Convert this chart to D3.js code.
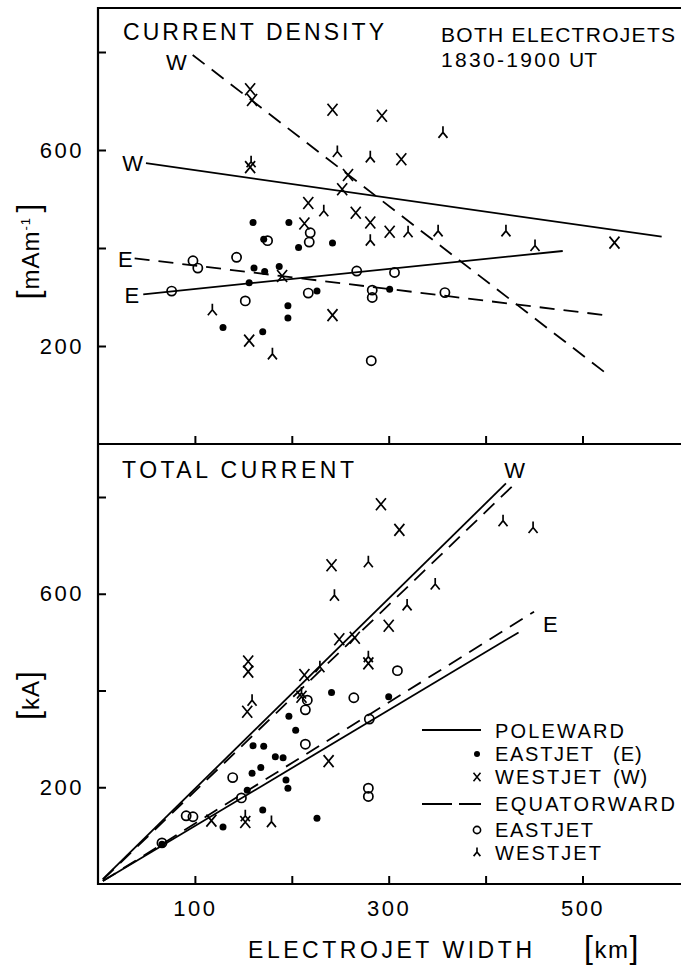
<!DOCTYPE html>
<html>
<head>
<meta charset="utf-8">
<script src="https://cdn.jsdelivr.net/npm/d3@7"></script>
<style>
  body { margin: 0; background: #fff; }
  text { font-family: "Liberation Sans", Arial, sans-serif; fill: #000; }
</style>
</head>
<body>
<svg id="chart"></svg>
<script>
// ---- data (width in km, density in mA/m, current in kA) ----
// upper panel: current density
let topEastPole = [[160,452],[197,452],[171,418],[207,401],[242,410],[161,359],[172,352],[187,362],
    [156,329],[226,312],[301,316],[196,282],[196,257],[129,238],[170,229]];
let topWestPole = [[157,724],[159,702],[242,682],[293,670],[313,581],[157,565],[258,549],[252,520],
    [217,492],[266,472],[281,452],[301,433],[213,450],[190,343],[242,263],[156,211],[533,411]];
let topEastEqu = [[219,431],[218,412],[175,415],[143,381],[98,374],[103,359],[76,312],[267,353],
    [306,350],[217,308],[283,314],[283,299],[358,309],[152,292],[282,170]];
let topWestEqu = [[356,636],[247,597],[281,586],[158,576],[233,476],[281,416],[320,433],[351,435],
    [421,435],[451,405],[118,274],[180,184]];

// lower panel: total current
let botEastPole = [[241,396],[300,387],[197,347],[204,318],[160,286],[171,285],[183,263],[191,261],
    [168,241],[159,229],[194,215],[196,198],[154,194],[170,153],[226,136],[129,118],[66,82]];
let botWestPole = [[292,785],[311,732],[241,659],[300,534],[249,506],[265,509],[279,456],[155,460],
    [155,439],[213,432],[154,356],[210,387],[238,254],[152,128],[117,131]];
let botEastEqu = [[309,441],[264,385],[216,380],[214,360],[280,341],[214,289],[139,220],[279,198],
    [279,181],[148,178],[91,141],[98,139],[66,85]];
let botWestEqu = [[418,751],[449,737],[279,666],[244,597],[348,620],[319,577],[279,470],[229,449],
    [159,380],[179,129],[152,141],[210,395]];

// fitted lines (start, end)
let topPoleW = [[49.5,573],[581.7,423]];
let topEquW  = [[97.7,794],[524.3,144.3]];
let topEquE  = [[37.8,379],[521.9,263.3]];
let topPoleE = [[46.7,305.5],[479.6,393.9]];
let botPoleW = [[5,10],[421,828]];
let botEquW  = [[5,9],[430,827]];
let botPoleE = [[5,6],[434,520]];
let botEquE  = [[5,6],[450,563]];

let xTicks = [100,200,300,400,500], xLabels = [100,300,500];
let yTicks = [200,400,600,800], yLabels = [200,600];

// ---- layout ----
const width = 681, height = 969;
const svg = d3.select("#chart").attr("width", width).attr("height", height);
svg.append("rect").attr("width", width).attr("height", height).attr("fill", "#fff");

let x = d3.scaleLinear().domain([0, 600]).range([98, 679.4]);
let yTop = d3.scaleLinear().domain([0, 800]).range([444, 52]);
let yBot = d3.scaleLinear().domain([0, 800]).range([884, 497]);

// frame
svg.append("path")
    .attr("d", "M681,8 H98 V884 H681 M98,444 H681")
    .attr("fill", "none").attr("stroke", "#000").attr("stroke-width", 2.2);

function styleAxis(g) {
    g.select(".domain").remove();
    g.selectAll(".tick line").attr("stroke", "#000").attr("stroke-width", 2);
    g.selectAll(".tick text")
        .attr("font-family", "Liberation Sans, Arial, sans-serif")
        .attr("font-size", 22).attr("letter-spacing", 2.5).attr("fill", "#000");
}

// y axes (ticks pointing inward)
[yTop, yBot].forEach(function(s) {
    svg.append("g").attr("transform", "translate(98,0)")
        .call(d3.axisLeft(s).tickValues(yTicks).tickSize(-8).tickPadding(14)
            .tickFormat(d => yLabels.includes(d) ? d : ""))
        .call(styleAxis);
});

// x ticks on the divider and the bottom axis
svg.append("g").attr("transform", "translate(0,444)")
    .call(d3.axisBottom(x).tickValues(xTicks).tickSize(-8).tickFormat(""))
    .call(styleAxis);
svg.append("g").attr("transform", "translate(0,884)")
    .call(d3.axisBottom(x).tickValues(xTicks).tickSize(-8).tickPadding(16)
        .tickFormat(d => xLabels.includes(d) ? d : ""))
    .call(styleAxis);

// ---- lines ----
function drawLine(data, ys, dashed) {
    svg.append("path")
        .datum(data)
        .attr("d", d3.line().x(d => x(d[0])).y(d => ys(d[1])))
        .attr("fill", "none").attr("stroke", "#000").attr("stroke-width", 1.8)
        .attr("stroke-dasharray", dashed ? "15,9" : null);
}
drawLine(topPoleW, yTop, false);
drawLine(topEquW, yTop, true);
drawLine(topEquE, yTop, true);
drawLine(topPoleE, yTop, false);
drawLine(botPoleW, yBot, false);
drawLine(botEquW, yBot, true);
drawLine(botPoleE, yBot, false);
drawLine(botEquE, yBot, true);

// ---- markers ----
let crossPath = "M-5,-6L5,6M5,-6L-5,6";
let forkPath = "M0,-6V0M-4.5,5.5L0,0L4.5,5.5";

function drawPoints(data, ys, kind) {
    let g = svg.append("g");
    let sel = g.selectAll(".pt").data(data).enter();
    if (kind === "dot") {
        sel.append("circle").attr("cx", d => x(d[0])).attr("cy", d => ys(d[1]))
            .attr("r", 3.5).attr("fill", "#000");
    } else if (kind === "ring") {
        sel.append("circle").attr("cx", d => x(d[0])).attr("cy", d => ys(d[1]))
            .attr("r", 4.6).attr("fill", "none").attr("stroke", "#000").attr("stroke-width", 1.7);
    } else {
        sel.append("path")
            .attr("transform", d => `translate(${x(d[0])},${ys(d[1])})`)
            .attr("d", kind === "cross" ? crossPath : forkPath)
            .attr("fill", "none").attr("stroke", "#000").attr("stroke-width", 1.7);
    }
}
drawPoints(topEastPole, yTop, "dot");
drawPoints(topWestPole, yTop, "cross");
drawPoints(topEastEqu, yTop, "ring");
drawPoints(topWestEqu, yTop, "fork");
drawPoints(botEastPole, yBot, "dot");
drawPoints(botWestPole, yBot, "cross");
drawPoints(botEastEqu, yBot, "ring");
drawPoints(botWestEqu, yBot, "fork");

// ---- text ----
function label(txt, px, py, size, len, anchor) {
    let t = svg.append("text").attr("x", px).attr("y", py)
        .attr("font-size", size).attr("text-anchor", anchor || "start").text(txt);
    if (len) t.attr("textLength", len).attr("lengthAdjust", "spacing");
    return t;
}

// line labels
label("W", x(topEquW[0][0]) - 6, yTop(topEquW[0][1]) + 15, 22, null, "end");
label("W", x(topPoleW[0][0]) - 3, yTop(topPoleW[0][1]) + 8, 22, null, "end");
label("E", x(topEquE[0][0]) - 2, yTop(topEquE[0][1]) + 9, 22, null, "end");
label("E", x(topPoleE[0][0]) - 4, yTop(topPoleE[0][1]) + 9, 22, null, "end");
label("W", x(botEquW[1][0]), 478, 22, null, "middle");
label("E", x(botEquE[1][0]) + 9, 632, 22, null, "start");

// panel titles
label("CURRENT DENSITY", 123, 40, 23, 261);
label("BOTH ELECTROJETS", 441, 41.5, 21, 234);
label("1830-1900", 441, 67, 21, 119);
label("UT", 569, 67, 21, 28);
label("TOTAL CURRENT", 122, 478, 23, 232);

// axis titles
label("ELECTROJET WIDTH", 248, 958, 23, 284);
let km = svg.append("text").attr("x", 584).attr("y", 958).attr("letter-spacing", 1.5);
km.append("tspan").attr("font-size", 32).text("[");
km.append("tspan").attr("font-size", 24).text("km");
km.append("tspan").attr("font-size", 32).text("]");

function yTitle(cx, cy, parts) {
    let t = svg.append("text").attr("transform", `translate(${cx},${cy}) rotate(-90)`)
        .attr("text-anchor", "middle").attr("letter-spacing", 1);
    t.append("tspan").attr("font-size", 32).text("[");
    parts(t);
    t.append("tspan").attr("font-size", 32).text("]");
}
yTitle(39, 251, function(t) {
    t.append("tspan").attr("font-size", 24).text("mAm");
    t.append("tspan").attr("font-size", 13).attr("dy", -9).text("-1");
    t.append("tspan").attr("font-size", 13).attr("dy", 9).text(" ");
});
yTitle(39, 695, function(t) {
    t.append("tspan").attr("font-size", 24).text("kA");
});

// ---- legend ----
let leg = svg.append("g");
leg.append("line").attr("x1", 422).attr("x2", 481).attr("y1", 730).attr("y2", 730)
    .attr("stroke", "#000").attr("stroke-width", 1.8);
leg.append("line").attr("x1", 422).attr("x2", 481).attr("y1", 804).attr("y2", 804)
    .attr("stroke", "#000").attr("stroke-width", 1.8).attr("stroke-dasharray", "30,7");
leg.append("circle").attr("cx", 477).attr("cy", 754).attr("r", 3).attr("fill", "#000");
leg.append("path").attr("transform", "translate(477,777) scale(0.7)").attr("d", crossPath)
    .attr("fill", "none").attr("stroke", "#000").attr("stroke-width", 2.2);
leg.append("circle").attr("cx", 477).attr("cy", 830).attr("r", 3.6)
    .attr("fill", "none").attr("stroke", "#000").attr("stroke-width", 1.6);
leg.append("path").attr("transform", "translate(477,852) scale(0.75)").attr("d", forkPath)
    .attr("fill", "none").attr("stroke", "#000").attr("stroke-width", 2.2);

label("POLEWARD", 495, 737.5, 20, 129);
label("EASTJET", 495, 761, 20, 98);
label("(E)", 613, 761, 20).attr("letter-spacing", 1);
label("WESTJET", 495, 784, 20, 106);
label("(W)", 613, 784, 20).attr("letter-spacing", 1);
label("EQUATORWARD", 495, 811, 20, 180);
label("EASTJET", 495, 837, 20, 98);
label("WESTJET", 495, 859.5, 20, 106);
</script>
</body>
</html>
